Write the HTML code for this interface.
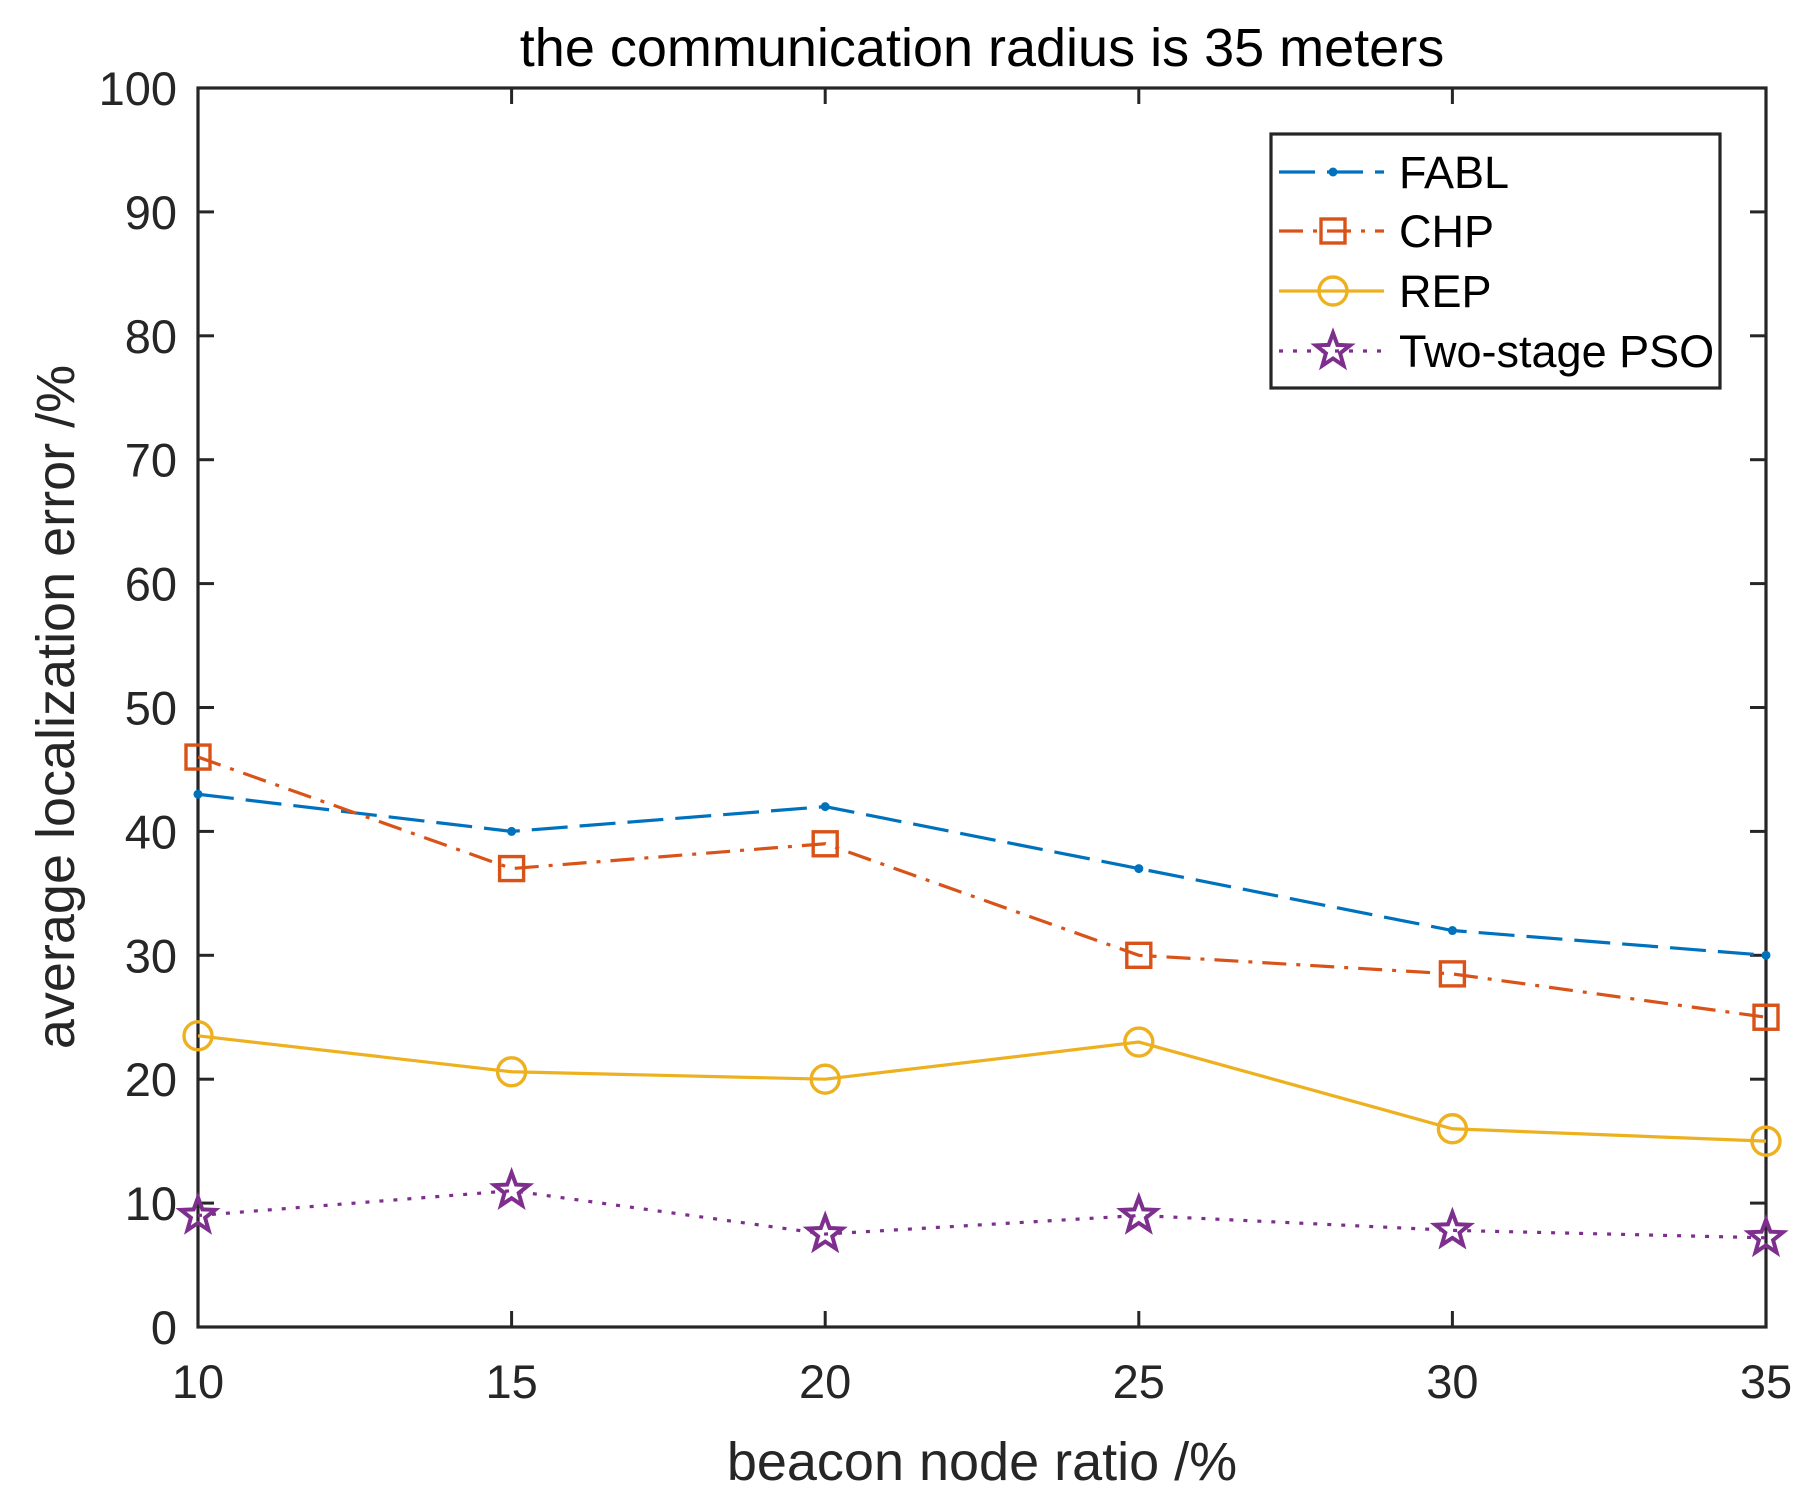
<!DOCTYPE html>
<html><head><meta charset="utf-8"><style>
body{margin:0;background:#fff}
svg text{font-family:"Liberation Sans",Arial,sans-serif;fill:#262626}
</style></head><body>
<svg id="chart" width="1813" height="1493" viewBox="0 0 1813 1493" xmlns="http://www.w3.org/2000/svg">
<rect width="1813" height="1493" fill="#fff"/>
<text x="982" y="66" font-size="54" text-anchor="middle" style="fill:#000">the communication radius is 35 meters</text>
<g id="plot"></g>
<text x="982" y="1480" font-size="54" text-anchor="middle">beacon node ratio /%</text>
<text transform="translate(74,707) rotate(-90)" font-size="54" text-anchor="middle">average localization error /%</text>
<g id="legend"></g>
</svg>
<script>
const categories=[10,15,20,25,30,35];
const fablValues=[43,40,42,37,32,30];
const chpValues=[46,37,39,30,28.5,25];
const repValues=[23.5,20.6,20,23,16,15];
const psoValues=[9,11,7.5,9,7.8,7.2];
const yTicks=[0,10,20,30,40,50,60,70,80,90,100];
const xTicks=[10,15,20,25,30,35];
const seriesNames=["FABL","CHP","REP","Two-stage PSO"];

const NS="http://www.w3.org/2000/svg";
const L=198,R=1766,T=88,B=1327;
const xs=v=>L+(v-10)/(35-10)*(R-L);
const ys=v=>B-(v-0)/(100-0)*(B-T);
const plot=document.getElementById('plot');
function mk(tag,attrs,parent){const e=document.createElementNS(NS,tag);for(const k in attrs)e.setAttribute(k,attrs[k]);(parent||plot).appendChild(e);return e;}

const styles=[
 {color:'#0072BD',dash:'36 12',marker:'dot'},
 {color:'#D95319',dash:'24 10 4 10',marker:'square'},
 {color:'#EDB120',dash:'',marker:'circle'},
 {color:'#7E2F8E',dash:'4 10',marker:'star'}
];
function marker(type,x,y,c,parent){
 let e;
 if(type==='dot'){e=mk('circle',{cx:x,cy:y,r:4.5,fill:c},parent);}
 else if(type==='square'){e=mk('rect',{x:x-12,y:y-12,width:24,height:24,fill:'none',stroke:c,'stroke-width':3.4},parent);}
 else if(type==='circle'){e=mk('circle',{cx:x,cy:y,r:14,fill:'none',stroke:c,'stroke-width':3.4},parent);}
 else {let p=[];for(let i=0;i<10;i++){const r=i%2?7.5:18;const a=-Math.PI/2+i*Math.PI/5;p.push((x+r*Math.cos(a)).toFixed(1)+','+(y+r*Math.sin(a)).toFixed(1));}
  e=mk('polygon',{points:p.join(' '),fill:'none',stroke:c,'stroke-width':4,'stroke-linejoin':'miter'},parent);}
 return e;
}

const box=mk('rect',{x:L,y:T,width:R-L,height:B-T,fill:'none',stroke:'#262626','stroke-width':3.2});


yTicks.forEach(v=>{
 const y=ys(v);
 mk('line',{x1:L,x2:L+16,y1:y,y2:y,stroke:'#262626','stroke-width':3});
 mk('line',{x1:R,x2:R-16,y1:y,y2:y,stroke:'#262626','stroke-width':3});
 const t=mk('text',{x:177,y:y+17,'font-size':47,'text-anchor':'end'});t.textContent=v;
 
 
});
xTicks.forEach(v=>{
 const x=xs(v);
 mk('line',{x1:x,x2:x,y1:B,y2:B-16,stroke:'#262626','stroke-width':3});
 mk('line',{x1:x,x2:x,y1:T,y2:T+16,stroke:'#262626','stroke-width':3});
 const t=mk('text',{x:x,y:1398,'font-size':47,'text-anchor':'middle'});t.textContent=v;
 
 
});

const data=[fablValues,chpValues,repValues,psoValues];
const snames=['fabl','chp','rep','two-stage-pso'];
data.forEach((vals,si)=>{
 const s=styles[si];
 const g=mk('g',{});
 
 
 const pts=vals.map((v,i)=>xs(categories[i])+','+ys(v)).join(' ');
 const pl=mk('polyline',{points:pts,fill:'none',stroke:s.color,'stroke-width':3.2,'stroke-dasharray':s.dash},g);
 
 
 vals.forEach((v,i)=>{
  const m=marker(s.marker,xs(categories[i]),ys(v),s.color,g);
  
  
 });
});

const lg=document.getElementById('legend');
mk('rect',{x:1271,y:134,width:449,height:254,fill:'#fff',stroke:'#262626','stroke-width':3.2},lg);
const ly=[172,231,291,351];
seriesNames.forEach((n,i)=>{
 const s=styles[i];
 const g=mk('g',{},lg);
 
 
 mk('line',{x1:1279,x2:1384,y1:ly[i],y2:ly[i],stroke:s.color,'stroke-width':3.2,'stroke-dasharray':s.dash},g);
 marker(s.marker,1333,ly[i],s.color,g);
 const t=mk('text',{x:1399,y:ly[i]+16,'font-size':45},g);t.textContent=n;t.style.fill='#000';
});
</script>
</body></html>
